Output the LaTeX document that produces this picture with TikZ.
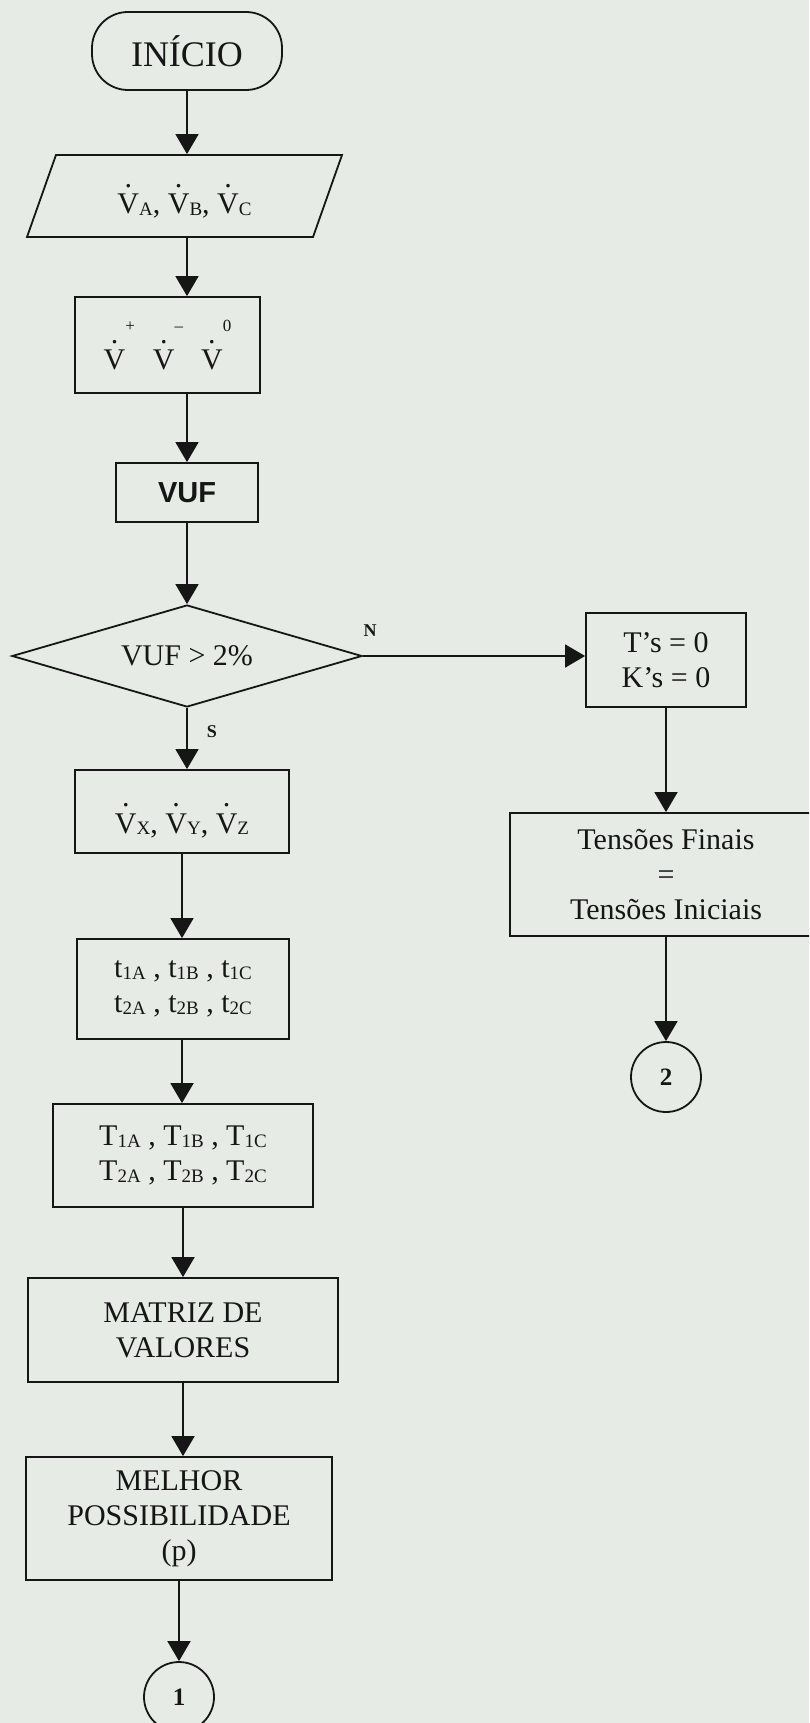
\documentclass[tikz,border=0pt]{standalone}
\usepackage[no-math]{fontspec}
\setmainfont{Liberation Serif}
\setsansfont{Liberation Sans}
\usetikzlibrary{shapes.geometric, arrows.meta}

\definecolor{paper}{RGB}{231,235,229}
\definecolor{ink}{RGB}{22,22,22}

% phasor dot, small index, raised sequence mark
\newcommand\dt[1]{\ooalign{#1\cr\hidewidth\raisebox{0.88em}{.}\hidewidth\cr}}
\newcommand\lo[1]{\raisebox{-0.05em}{\fontsize{19}{19}\selectfont #1}}
\newcommand\hi[1]{\raisebox{1.25em}{\fontsize{17}{17}\selectfont #1}}

\tikzset{
  every node/.style={text=ink, font=\fontsize{30}{35}\selectfont},
  box/.style={draw=ink, line width=1.8pt, align=center, inner sep=0pt},
  sz/.style 2 args={minimum width=#1pt, minimum height=#2pt},
  arr/.style={draw=ink, line width=1.8pt, -{Triangle[length=20pt,width=23pt]}},
  conn/.style={circle, draw=ink, line width=1.8pt, minimum size=70pt, inner sep=0pt,
    font=\fontsize{25}{25}\selectfont\bfseries},
  yn/.style={font=\fontsize{18}{18}\selectfont\bfseries}
}

\begin{document}
\begin{tikzpicture}[x=1pt, y=-1pt]
\fill[paper] (0,0) rectangle (809,1723);
\useasboundingbox (0,0) rectangle (809,1723);
\clip (0,0) rectangle (809,1723);

% main column
\node[box, rounded corners=36pt, sz={190}{78}, font=\fontsize{36}{40}\selectfont] (ini) at (187,51) {INÍCIO};
\node[box, trapezium, trapezium left angle=57, trapezium right angle=123,
  trapezium stretches body, sz={315}{82}] (inp) at (184.5,196)
  {\rule{0pt}{40pt}\dt{V}\lo{A}, \dt{V}\lo{B}, \dt{V}\lo{C}};
\node[box, sz={185}{96}] (seq) at (167.5,345)
  {\dt{V}\hi{+}\hspace{0.6em}\dt{V}\hi{--}\hspace{0.6em}\dt{V}\hi{0}};
\node[box, sz={142}{59}, font=\sffamily\bfseries\fontsize{29}{35}\selectfont] (vuf) at (187,492.5) {VUF};
\node[box, diamond, aspect=3.43, sz={350}{102}] (dec) at (187,656) {VUF > 2\%};
\node[box, sz={214}{83}] (vxyz) at (182,811.5)
  {\rule{0pt}{48pt}\dt{V}\lo{X}, \dt{V}\lo{Y}, \dt{V}\lo{Z}};
\node[box, sz={212}{100}] (tsm) at (183,989)
  {t\lo{1A} , t\lo{1B} , t\lo{1C}\\ t\lo{2A} , t\lo{2B} , t\lo{2C}};
\node[box, sz={260}{103}] (tbig) at (183,1155.5)
  {T\lo{1A} , T\lo{1B} , T\lo{1C}\\ T\lo{2A} , T\lo{2B} , T\lo{2C}};
\node[box, sz={310}{104}] (mat) at (183,1330) {MATRIZ DE\\VALORES};
\node[box, sz={306}{123}] (mel) at (179,1518.5) {MELHOR\\POSSIBILIDADE\\(p)};
\node[conn] (c1) at (179,1697) {1};

% branch N
\node[box, sz={160}{94}] (ks) at (666,660) {T’s = 0\\K’s = 0};
\node[box, sz={312}{123}] (tens) at (666,874.5) {Tensões Finais\\=\\Tensões Iniciais};
\node[conn] (c2) at (666,1077) {2};

\node[yn] (lbln) at (370,631) {N};
\node[yn] (lbls) at (212,732) {S};

% connectors
\draw[arr] (ini.south) -- (ini.south |- inp.north);
\draw[arr] (ini.south |- inp.south) -- (ini.south |- seq.north);
\draw[arr] (vuf |- seq.south) -- (vuf.north);
\draw[arr] (vuf.south) -- (dec.north);
\draw[arr] (dec.south) -- (dec.south |- vxyz.north);
\draw[arr] (dec.east) -- (dec.east -| ks.west);
\draw[arr] (ks.south) -- (tens.north);
\draw[arr] (tens.south) -- (c2.north);
\draw[arr] (vxyz.south) -- (vxyz.south |- tsm.north);
\draw[arr] (vxyz.south |- tsm.south) -- (vxyz.south |- tbig.north);
\draw[arr] (tbig.south) -- (tbig.south |- mat.north);
\draw[arr] (tbig.south |- mat.south) -- (tbig.south |- mel.north);
\draw[arr] (mel.south) -- (c1.north);

\end{tikzpicture}
\end{document}
